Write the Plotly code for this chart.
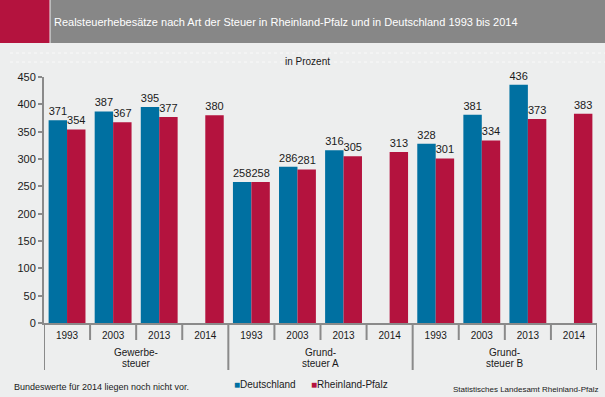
import plotly.graph_objects as go

# ---- data ----
groups = ["Gewerbe-<br>steuer", "Grund-<br>steuer A", "Grund-<br>steuer B"]
years = ["1993", "2003", "2013", "2014"]
deutschland = [371, 387, 395, None, 258, 286, 316, None, 328, 381, 436, None]
rheinland_pfalz = [354, 367, 377, 380, 258, 281, 305, 313, 301, 334, 373, 383]
series_names = ["Deutschland", "Rheinland-Pfalz"]
y_ticks = list(range(0, 451, 50))

title = "Realsteuerhebesätze nach Art der Steuer in Rheinland-Pfalz und in Deutschland 1993 bis 2014"
unit = "in Prozent"
note = "Bundeswerte für 2014 liegen noch nicht vor."
source = "Statistisches Landesamt Rheinland-Pfalz"

# ---- style ----
BLUE = "#0070a1"
RED = "#b4133e"
BG = "#edeeee"
AXIS = "#8a8a8a"
TXT = "#1a1a1a"
FONT = "Liberation Sans, Arial, sans-serif"

W, H = 605, 397
L, R, T, B = 44, 597, 77, 323
PW, PH = R - L, B - T


def px(x):
    return (x - L) / PW


def py(y):
    return (B - y) / PH


n_years = len(years)
cats = [(g, y) for g in groups for y in years]
xs = list(range(len(cats)))
ticktext = [c[1] for c in cats]


def labels(vals):
    return [("" if v is None else str(v)) for v in vals]


fig = go.Figure()
for name, vals, col in [(series_names[0], deutschland, BLUE),
                        (series_names[1], rheinland_pfalz, RED)]:
    fig.add_trace(go.Bar(
        x=xs, y=vals, name=name, marker_color=col, marker_line_width=0,
        text=labels(vals), textposition="outside", cliponaxis=False,
        constraintext="none",
        textfont=dict(family=FONT, size=11, color=TXT),
        hoverinfo="skip",
    ))

shapes = []
# header
shapes.append(dict(type="rect", xref="paper", yref="paper",
                   x0=px(0), x1=px(49.5), y0=py(0), y1=py(43),
                   fillcolor=RED, line_width=0, layer="below"))
shapes.append(dict(type="rect", xref="paper", yref="paper",
                   x0=px(50.5), x1=px(606), y0=py(0), y1=py(43),
                   fillcolor="#878787", line_width=0, layer="below"))
# faint dotted lines under header
for yy in (53, 62):
    shapes.append(dict(type="line", xref="paper", yref="paper",
                       x0=px(10), x1=px(605), y0=py(yy), y1=py(yy),
                       line=dict(color="#f9f9f9", width=1, dash="dot"), layer="below"))
# dividers
for i in range(len(cats) + 1):
    is_group = (i % n_years == 0)
    shapes.append(dict(type="line", xref="x", yref="paper",
                       x0=i - 0.5, x1=i - 0.5,
                       y0=0, y1=py(370) if is_group else py(340),
                       line=dict(color=AXIS, width=2)))

annotations = [
    dict(text=title, xref="paper", yref="paper", x=px(52), y=py(21.5),
         xanchor="left", yanchor="middle", showarrow=False,
         font=dict(family=FONT, size=11, color="white")),
    dict(text=unit, xref="paper", yref="paper", x=px(307), y=py(61),
         xanchor="center", yanchor="middle", showarrow=False,
         font=dict(family=FONT, size=10, color=TXT)),
    dict(text=note, xref="paper", yref="paper", x=px(12), y=py(387),
         xanchor="left", yanchor="middle", showarrow=False,
         font=dict(family=FONT, size=9, color=TXT)),
    dict(text=source, xref="paper", yref="paper", x=px(600), y=py(389),
         xanchor="right", yanchor="middle", showarrow=False,
         font=dict(family=FONT, size=8, color=TXT)),
    dict(text=f"<span style='color:{BLUE}'>■</span>{series_names[0]}",
         xref="paper", yref="paper", x=px(232), y=py(384),
         xanchor="left", yanchor="middle", showarrow=False,
         font=dict(family=FONT, size=10, color=TXT)),
    dict(text=f"<span style='color:{RED}'>■</span>{series_names[1]}",
         xref="paper", yref="paper", x=px(309), y=py(384),
         xanchor="left", yanchor="middle", showarrow=False,
         font=dict(family=FONT, size=10, color=TXT)),
]
for gi, g in enumerate(groups):
    center = gi * n_years + (n_years - 1) / 2
    for k, line in enumerate(g.split("<br>")):
        annotations.append(dict(text=line, xref="x", yref="paper", x=center,
                                y=py(352.5 + 11 * k),
                                xanchor="center", yanchor="middle", showarrow=False,
                                font=dict(family=FONT, size=10, color=TXT)))

fig.update_layout(
    width=W, height=H,
    margin=dict(l=L, r=W - R, t=T, b=H - B, pad=0),
    paper_bgcolor=BG, plot_bgcolor=BG,
    barmode="group", bargap=0.2, bargroupgap=0,
    showlegend=False,
    shapes=shapes, annotations=annotations,
    font=dict(family=FONT, size=11, color=TXT),
    xaxis=dict(range=[-0.5, len(cats) - 0.5], tickvals=xs, ticktext=ticktext,
               showline=True, linecolor=AXIS, linewidth=2, showgrid=False,
               zeroline=False, ticks="outside", ticklen=2, tickcolor="rgba(0,0,0,0)",
               tickfont=dict(family=FONT, size=10, color=TXT), fixedrange=True),
    yaxis=dict(range=[0, 450], tickvals=y_ticks, showline=True, linecolor=AXIS,
               linewidth=2, showgrid=False, zeroline=False, ticks="outside",
               ticklen=4, tickwidth=2, tickcolor=AXIS,
               tickfont=dict(family=FONT, size=11, color=TXT), fixedrange=True),
)

fig.write_html("out.html", config={"displayModeBar": False},
               post_script="document.body.style.margin='0';document.body.style.overflow='hidden';")
